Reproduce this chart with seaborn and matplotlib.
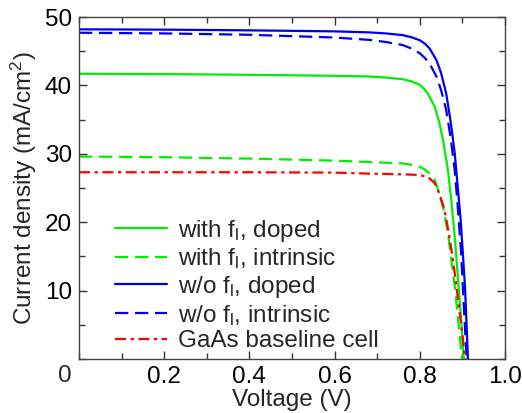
import numpy as np
import pandas as pd
import matplotlib
matplotlib.use("Agg")
import matplotlib.pyplot as plt
import seaborn as sns
from matplotlib.ticker import MultipleLocator

# ---- data ----
v_wo_doped = [0.0, 0.2, 0.4, 0.6, 0.682, 0.720, 0.760, 0.780, 0.800, 0.812, 0.823, 0.839, 0.850,
              0.862, 0.872, 0.882, 0.889, 0.896, 0.901, 0.906, 0.910, 0.913]
j_wo_doped = [48.2, 48.15, 48.05, 47.9, 47.75, 47.6, 47.35, 47.05, 46.6, 46.1, 45.4, 43.7, 41.8,
              38.8, 34.9, 30.1, 25.2, 20.3, 15.5, 10.6, 4.7, 0.0]

v_wo_intr = [0.0, 0.2, 0.4, 0.6, 0.682, 0.720, 0.760, 0.780, 0.800, 0.812, 0.823, 0.839, 0.850,
             0.862, 0.872, 0.882, 0.889, 0.897, 0.903, 0.910]
j_wo_intr = [47.7, 47.6, 47.4, 47.0, 46.65, 46.35, 45.9, 45.4, 44.7, 44.0, 43.2, 41.3, 39.3,
             36.4, 32.5, 27.6, 22.3, 15.5, 8.1, 0.0]

v_w_doped = [0.0, 0.2, 0.4, 0.6, 0.682, 0.720, 0.760, 0.780, 0.800, 0.810, 0.819, 0.835, 0.846,
             0.856, 0.866, 0.874, 0.882, 0.890, 0.897, 0.903]
j_w_doped = [41.7, 41.65, 41.55, 41.4, 41.3, 41.15, 40.9, 40.6, 40.1, 39.5, 38.8, 36.9, 34.5,
             31.5, 27.6, 23.2, 17.9, 11.5, 5.7, 0.0]

v_w_intr = [0.0, 0.2, 0.4, 0.6, 0.682, 0.720, 0.760, 0.780, 0.800, 0.812, 0.823, 0.835, 0.846,
            0.856, 0.866, 0.874, 0.882, 0.890, 0.899]
j_w_intr = [29.6, 29.5, 29.3, 29.0, 28.8, 28.7, 28.6, 28.4, 28.1, 27.7, 27.1, 26.2, 24.2,
            21.8, 18.4, 14.5, 10.6, 5.7, 0.0]

v_gaas = [0.0, 0.2, 0.4, 0.6, 0.682, 0.720, 0.760, 0.780, 0.800, 0.812, 0.823, 0.835, 0.846,
          0.858, 0.868, 0.878, 0.888, 0.898, 0.906]
j_gaas = [27.3, 27.3, 27.3, 27.25, 27.1, 27.05, 27.0, 26.95, 26.9, 26.7, 26.4, 25.7, 24.2,
          21.8, 18.4, 14.5, 9.6, 4.7, 0.0]

labels = [r"with f$_\mathrm{l}$, doped", r"with f$_\mathrm{l}$, intrinsic",
          r"w/o f$_\mathrm{l}$, doped", r"w/o f$_\mathrm{l}$, intrinsic",
          "GaAs baseline cell"]
x_ticks = [0.2, 0.4, 0.6, 0.8, 1.0]
x_tick_labels = ["0.2", "0.4", "0.6", "0.8", "1.0"]
y_ticks = [10, 20, 30, 40, 50]
y_tick_labels = ["10", "20", "30", "40", "50"]

sns.set_style("ticks")
plt.rcParams["font.family"] = ["Liberation Sans", "DejaVu Sans"]
plt.rcParams["mathtext.fontset"] = "custom"
plt.rcParams["mathtext.rm"] = "Liberation Sans"
plt.rcParams["mathtext.it"] = "Liberation Sans:italic"
plt.rcParams["mathtext.bf"] = "Liberation Sans:bold"

FS = 17.5
fig = plt.figure(figsize=(5.22, 4.13), dpi=100)
ax = fig.add_axes([79/522, 1-359/413, 426/522, 342/413])

series = [
    (v_w_doped, j_w_doped, "#00ee00", "-"),
    (v_w_intr, j_w_intr, "#00ee00", (0, (6, 3))),
    (v_wo_doped, j_wo_doped, "#0000ee", "-"),
    (v_wo_intr, j_wo_intr, "#0000ee", (0, (6, 3))),
    (v_gaas, j_gaas, "#ff0000", (0, (5, 2, 1.5, 2))),
]
for (v, j, c, ls), lab in zip(series, labels):
    df = pd.DataFrame({"V": v, "J": j})
    sns.lineplot(data=df, x="V", y="J", ax=ax, color=c, linestyle=ls,
                 linewidth=1.6, label=lab, sort=False, estimator=None)

ax.set_xlim(0, 1.0)
ax.set_ylim(0, 50)
ax.set_xticks(x_ticks)
ax.set_xticklabels(x_tick_labels)
ax.set_yticks(y_ticks)
ax.set_yticklabels(y_tick_labels)
ax.xaxis.set_minor_locator(MultipleLocator(0.1))
ax.yaxis.set_minor_locator(MultipleLocator(5))
ax.tick_params(which="both", direction="in", top=True, right=True,
               colors="#333333", labelcolor="black", labelsize=FS, width=1)
ax.tick_params(which="major", length=6, pad=5)
ax.tick_params(which="minor", length=4)
for s in ax.spines.values():
    s.set_visible(True)
    s.set_color("#444444")
    s.set_linewidth(1.0)

ax.text(-14/426, -17/342, "0", transform=ax.transAxes, ha="center", va="center", fontsize=FS)

ax.set_xlabel("Voltage (V)", fontsize=FS, labelpad=0.5)
ax.set_ylabel(r"Current density (mA/cm$^2$)", fontsize=FS, labelpad=4)

leg = ax.legend(loc="upper left", bbox_to_anchor=(0.085, 0.413), frameon=False,
                fontsize=FS, handlelength=2.15, handletextpad=0.45,
                labelspacing=0.11, borderpad=0, borderaxespad=0)

fig.savefig("out.png", dpi=100)
